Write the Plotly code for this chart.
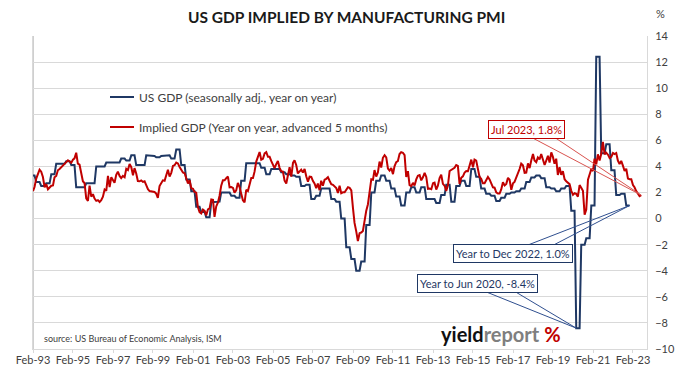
import numpy as np
import pandas as pd
import plotly.graph_objects as go

# ---------------- data ----------------
series_start = "1993-02-01"   # first month shown (Feb 1993)

# US real GDP, year on year %, quarterly Q1 1993 .. Q4 2022
us_gdp_quarterly = [
    3.3, 2.8, 2.5, 2.7,      # 1993
    3.4, 4.2, 4.2, 4.4,      # 1994
    4.1, 2.4, 2.4, 2.7,      # 1995
    2.7, 4.0, 4.0, 4.3,      # 1996
    4.3, 4.3, 4.6, 4.45,     # 1997
    4.85, 4.1, 4.1, 4.85,    # 1998
    4.8, 4.7, 4.8, 4.85,     # 1999
    4.6, 5.3, 4.1, 3.0,      # 2000
    2.1, 0.9, 0.5, 0.1,      # 2001
    1.25, 1.3, 2.0, 2.0,     # 2002
    1.75, 1.6, 2.9, 4.25,    # 2003
    4.25, 4.25, 3.9, 3.4,    # 2004
    3.8, 3.8, 3.55, 3.4,     # 2005
    3.3, 3.2, 2.5, 2.6,      # 2006
    1.5, 1.75, 2.3, 2.3,     # 2007
    1.5, 1.3, 0.0, -2.2,     # 2008
    -3.1, -4.0, -3.3, -0.5,  # 2009
    2.0, 2.9, 3.3, 2.9,      # 2010
    2.3, 1.7, 1.0, 2.0,      # 2011
    2.4, 2.0, 2.4, 1.5,      # 2012
    1.5, 1.2, 1.8, 2.6,      # 2013
    1.3, 2.5, 2.9, 2.5,      # 2014
    3.8, 3.2, 2.3, 1.9,      # 2015
    1.75, 1.35, 1.6, 1.9,    # 2016
    2.0, 2.1, 2.3, 2.8,      # 2017
    3.15, 3.3, 3.1, 2.4,     # 2018
    2.3, 2.1, 2.3, 2.5,      # 2019
    0.6, -8.4, -2.0, -1.5,   # 2020
    1.0, 12.4, 5.0, 5.7,     # 2021
    3.7, 1.8, 1.9, 1.0,      # 2022
]

# Implied GDP from manufacturing PMI (year on year %, advanced 5 months), monthly Feb 1993 .. Jul 2023
implied_gdp_monthly = [
    2.11, 2.42, 3.07, 3.36, 3.75, 3.60, 3.19, 2.40, 2.64, 2.25, 2.40,              # 1993 Feb-Dec
    2.52, 2.54, 3.17, 3.27, 3.70, 3.80, 3.92, 4.01, 4.16, 4.33, 4.47, 4.40,        # 1994
    4.28, 4.52, 4.62, 5.05, 4.21, 4.13, 3.58, 2.86, 2.71, 1.55, 1.36, 2.52,        # 1995
    1.68, 1.87, 1.53, 1.36, 1.41, 1.27, 1.41, 1.68, 2.23, 2.13, 3.27, 2.42,        # 1996
    3.17, 2.95, 2.74, 3.36, 3.60, 3.27, 3.10, 3.27, 3.17, 3.82, 3.72, 4.18,        # 1997
    3.94, 3.31, 3.87, 3.46, 2.88, 2.86, 2.93, 2.81, 2.86, 2.57, 2.25, 2.11,        # 1998
    2.08, 2.04, 2.04, 1.92, 1.58, 2.49, 2.76, 2.93, 2.90, 3.39, 3.75, 3.22,        # 1999
    3.51, 4.04, 4.09, 4.30, 4.23, 3.96, 3.75, 3.53, 3.48, 3.12, 2.69, 2.95,        # 2000
    2.33, 2.28, 2.04, 1.99, 0.88, 0.49, 0.40, 0.69, 0.59, 0.25, 0.71, 0.78,        # 2001
    1.46, 1.43, 0.13, 0.93, 1.22, 1.75, 2.52, 2.93, 2.93, 3.10, 3.22, 2.40,        # 2002
    2.42, 2.35, 1.99, 2.16, 2.74, 2.42, 1.94, 1.41, 1.24, 2.21, 2.11, 2.59,        # 2003
    3.12, 3.12, 3.60, 4.37, 4.78, 5.10, 4.52, 4.59, 5.00, 5.10, 4.74, 4.74,        # 2004
    4.40, 4.13, 3.87, 4.18, 4.42, 3.89, 3.63, 3.60, 2.90, 2.69, 3.27, 3.94,        # 2005
    3.22, 4.28, 4.47, 4.11, 3.46, 3.60, 3.75, 3.53, 3.80, 3.24, 2.83, 3.22,        # 2006
    3.19, 2.88, 2.69, 2.33, 2.69, 2.18, 2.90, 2.52, 2.98, 3.05, 3.17, 2.90,        # 2007
    2.64, 2.59, 2.45, 2.35, 1.96, 2.52, 1.94, 2.01, 2.01, 2.25, 2.40, 2.35,        # 2008
    2.16, 0.78, -0.33, -0.98, -1.72, -1.12, -1.07, -0.95, -0.04, 0.61, 1.10, 2.08, # 2009
    3.02, 2.98, 3.72, 3.22, 3.53, 4.37, 3.92, 4.66, 4.86, 4.69, 3.84, 3.68,        # 2010
    3.87, 3.41, 4.01, 4.33, 4.40, 4.95, 5.10, 5.05, 4.86, 3.19, 3.63, 2.57,        # 2011
    2.49, 2.74, 2.54, 3.00, 3.29, 3.34, 2.93, 3.17, 3.51, 3.19, 2.28, 2.30,        # 2012
    2.25, 2.71, 2.76, 2.23, 2.52, 3.10, 3.36, 2.66, 2.52, 2.11, 2.57, 3.65,        # 2013
    3.72, 3.84, 3.89, 4.11, 4.04, 2.66, 3.12, 3.24, 3.53, 3.65, 3.63, 4.06,        # 2014
    4.52, 3.94, 4.52, 4.45, 3.68, 3.19, 3.05, 2.71, 2.71, 3.02, 3.19, 3.00,        # 2015
    2.62, 2.40, 2.37, 2.01, 1.92, 1.92, 2.23, 2.78, 2.54, 2.66, 3.12, 2.98,        # 2016
    2.21, 2.71, 2.81, 3.12, 3.48, 3.80, 4.21, 4.09, 3.51, 3.53, 4.23, 3.87,        # 2017
    4.47, 4.95, 4.45, 4.33, 4.69, 4.54, 4.95, 4.59, 4.11, 4.45, 4.81, 4.30,        # 2018
    5.07, 4.71, 4.21, 4.59, 3.34, 3.94, 3.36, 3.63, 3.02, 2.86, 2.76, 2.64,        # 2019
    2.13, 1.82, 1.94, 1.89, 1.68, 2.57, 2.37, 2.13, 0.30, 0.69, 2.98, 3.36,        # 2020
    3.80, 3.65, 4.59, 4.16, 4.93, 4.45, 4.95, 5.89, 4.93, 5.05, 4.90, 4.64,        # 2021
    4.74, 5.03, 4.95, 5.03, 4.45, 4.18, 4.42, 4.06, 3.65, 3.82, 3.07, 3.02,        # 2022
    3.02, 2.57, 2.40, 2.11, 1.96, 1.72, 1.80,                                      # 2023 Jan-Jul
]

tick_dates = ["1993-02-01", "1995-02-01", "1997-02-01", "1999-02-01", "2001-02-01",
              "2003-02-01", "2005-02-01", "2007-02-01", "2009-02-01", "2011-02-01",
              "2013-02-01", "2015-02-01", "2017-02-01", "2019-02-01", "2021-02-01",
              "2023-02-01"]
tick_labels = ["Feb-93", "Feb-95", "Feb-97", "Feb-99", "Feb-01", "Feb-03", "Feb-05",
               "Feb-07", "Feb-09", "Feb-11", "Feb-13", "Feb-15", "Feb-17", "Feb-19",
               "Feb-21", "Feb-23"]

name_gdp = "US GDP (seasonally adj., year on year)"
name_implied = "Implied GDP (Year on year, advanced 5 months)"

# monthly view of the quarterly GDP (each quarter's value held for its 3 months; series starts Feb 1993)
gdp_monthly = np.repeat(us_gdp_quarterly, 3)[1:]
gdp_dates = pd.date_range(series_start, periods=len(gdp_monthly), freq="MS")
implied_dates = pd.date_range(series_start, periods=len(implied_gdp_monthly), freq="MS")

# ---------------- style ----------------
BLUE = "#1f3864"
RED = "#c00000"
GRID = "#d9d9d9"
TXT = "#404040"
FONT = "Lato"

W, H = 680, 373
L, R, T, B = 33, 33, 36, 24
PW, PH = W - L - R, H - T - B


def px_x(p):
    return (p - L) / PW


def px_y(p):
    return (H - B - p) / PH


fig = go.Figure()
fig.add_trace(go.Scatter(x=gdp_dates, y=gdp_monthly, mode="lines", name=name_gdp,
                         line=dict(color=BLUE, width=2), showlegend=False))
fig.add_trace(go.Scatter(x=implied_dates, y=implied_gdp_monthly, mode="lines", name=name_implied,
                         line=dict(color=RED, width=2), showlegend=False))

annotations = []
shapes = []

# title and unit
annotations.append(dict(text="<b>US GDP IMPLIED BY MANUFACTURING PMI</b>", xref="paper", yref="paper",
                        x=px_x(346), y=px_y(17), xanchor="center", yanchor="middle", showarrow=False,
                        font=dict(family=FONT, size=15.5, color="#1a1a1a")))
annotations.append(dict(text="%", xref="paper", yref="paper", x=px_x(660), y=px_y(14),
                        xanchor="center", yanchor="middle", showarrow=False,
                        font=dict(family=FONT, size=11, color=TXT)))

# legend (drawn manually inside the plot)
for color, label, ypx in [(BLUE, name_gdp, 97), (RED, name_implied, 127)]:
    shapes.append(dict(type="line", xref="paper", yref="paper", x0=px_x(110), x1=px_x(134),
                       y0=px_y(ypx), y1=px_y(ypx), line=dict(color=color, width=2)))
    annotations.append(dict(text=label, xref="paper", yref="paper", x=px_x(137), y=px_y(ypx),
                            xanchor="left", yanchor="middle", showarrow=False,
                            font=dict(family=FONT, size=12, color=TXT)))

# source and logo
annotations.append(dict(text="source: US Bureau of Economic Analysis, ISM", xref="paper", yref="paper",
                        x=px_x(42), y=px_y(338), xanchor="left", yanchor="middle", showarrow=False,
                        font=dict(family=FONT, size=9, color=TXT)))
annotations.append(dict(text="<b><span style='color:#111111'>yield</span>"
                             "<span style='color:#7f7f7f'>report</span> "
                             "<span style='color:#c00000'>%</span></b>",
                        xref="paper", yref="paper", x=px_x(439), y=px_y(334), xanchor="left",
                        yanchor="middle", showarrow=False,
                        font=dict(family=FONT, size=20, color="#111111")))

# call-outs anchored at data points
jul_x, jul_y = implied_dates[-1].strftime("%Y-%m-%d"), implied_gdp_monthly[-1]
dec_x, dec_y = gdp_dates[-1].strftime("%Y-%m-%d"), float(gdp_monthly[-1])
imin = int(np.argmin(gdp_monthly))
jun_x, jun_y = gdp_dates[imin].strftime("%Y-%m-%d"), float(gdp_monthly[imin])

callouts = [
    (jul_x, jul_y, f"Jul 2023, {jul_y:.1f}%", RED, "#d9534f", "M -114,60 L 0,0 L -90,60", -115, 66),
    (dec_x, dec_y, f"Year to Dec 2022, {dec_y:.1f}%", BLUE, "#2f4f8f", "M -103,-40 L 0,0 L -77,-40", -117, -48),
    (jun_x, jun_y, f"Year to Jun 2020, {jun_y:.1f}%", BLUE, "#2f4f8f", "M -92,37 L 0,0 L -62,37", -99, 45),
]
for cx, cy, text, tcolor, lcolor, path, xs, ys in callouts:
    shapes.append(dict(type="path", xref="x", yref="y", xsizemode="pixel", ysizemode="pixel",
                       xanchor=cx, yanchor=cy, path=path, line=dict(color=lcolor, width=1)))
    annotations.append(dict(text=text, xref="x", yref="y", x=cx, y=cy, xshift=xs, yshift=ys,
                            xanchor="center", yanchor="middle", showarrow=False,
                            bgcolor="white", bordercolor=tcolor, borderwidth=1, borderpad=2,
                            font=dict(family=FONT, size=11, color=tcolor)))

# left plot border (slightly heavier)
shapes.append(dict(type="line", xref="paper", yref="paper", x0=0, x1=0, y0=0, y1=1,
                   line=dict(color="#cfcfcf", width=2), layer="below"))

fig.update_layout(
    width=W, height=H,
    margin=dict(l=L, r=R, t=T, b=B, pad=0),
    paper_bgcolor="white", plot_bgcolor="white",
    font=dict(family=FONT, size=11, color=TXT),
    showlegend=False,
    hovermode=False,
    annotations=annotations,
    shapes=shapes,
    xaxis=dict(type="date", range=["1993-02-01", "2023-10-15"], tickvals=tick_dates,
               ticktext=tick_labels, ticks="outside", ticklen=3, tickcolor=GRID,
               showgrid=False, showline=True, linecolor=GRID, linewidth=1,
               ticklabelstandoff=-2,
               tickfont=dict(family=FONT, size=11, color=TXT), automargin=False),
    yaxis=dict(range=[-10, 14], tick0=0, dtick=2, side="right", showgrid=True,
               gridcolor=GRID, gridwidth=1, zeroline=False, showline=True, mirror=True,
               linecolor=GRID, linewidth=1, ticks="", ticklabelstandoff=5,
               tickfont=dict(family=FONT, size=11, color=TXT), automargin=False),
)

# remove the browser's default page margin so the 680x373 figure fills the window exactly
fig.write_html("out.html", config={"displayModeBar": False},
               post_script="document.body.style.margin='0';")
